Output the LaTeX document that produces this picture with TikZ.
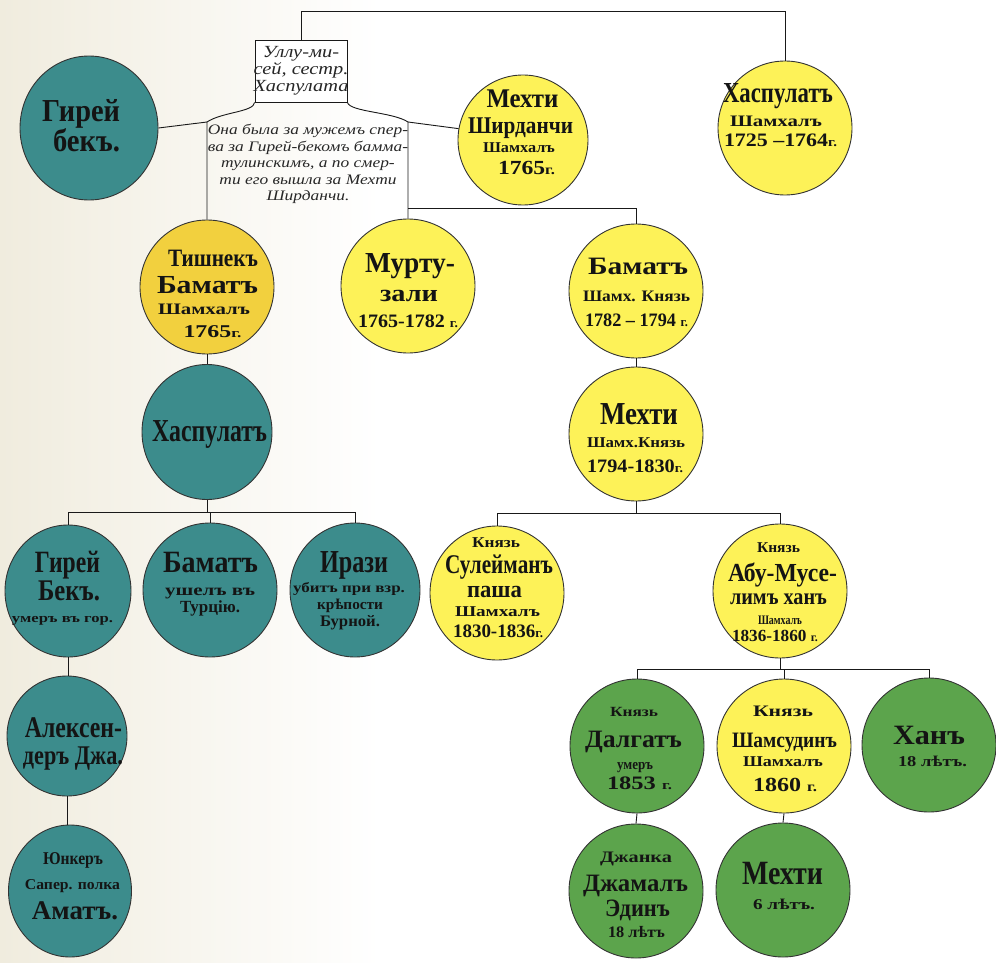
\documentclass[tikz,border=0pt]{standalone}
\usepackage{fontspec}
\usepackage{graphicx}
\setmainfont{Liberation Serif}
\newfontfamily\cf{Liberation Serif}
\newfontfamily\scrf[FakeStretch=1.2]{Liberation Serif}
\usetikzlibrary{shapes.geometric}
\newcommand\fsz[2]{\fontsize{#1}{#2}\selectfont}
\newcommand\zs[1]{\fontsize{#1}{#1}\selectfont}
% one line of text: #1 font, #2 distance from previous baseline, #3 size, #4 width, #5 x offset, #6 text
\newcommand\LX[6]{\vbox to #2pt{\vss\hbox to 0pt{\hss\kern#5pt\smash{\resizebox{#4pt}{\height}{#1\zs{#3}#6}}\kern-#5pt\hss}}}
\newcommand\LB{\LX{\cf\bfseries}}
\newcommand\LR{\LX{\cf\bfseries}}
\definecolor{tealc}{RGB}{60,140,140}
\definecolor{yelc}{RGB}{253,242,88}
\definecolor{tishc}{RGB}{242,208,62}
\definecolor{grnc}{RGB}{92,164,76}
\definecolor{creamc}{RGB}{240,236,222}
\begin{document}
\begin{tikzpicture}[x=1pt,y=-1pt,
  line/.style={draw=black!90, line width=0.9pt},
  pers/.style={ellipse, draw=black!80, line width=0.9pt, inner sep=0pt, minimum width=134pt, minimum height=134pt},
  tealp/.style={pers, fill=tealc},
  yelp/.style={pers, fill=yelc},
  grnp/.style={pers, fill=grnc},
  tv/.style={anchor=south, inner sep=0pt, text=black!92},
  cursive/.style={align=center, inner sep=0pt, text=black!85, font=\scrf\itshape\fsz{17}{17}}
 ]
\useasboundingbox (0,0) rectangle (996,963);
\shade[left color=creamc, right color=white] (0,0) rectangle (380,963);

% persons
\node[tealp, minimum width=138pt, minimum height=144pt] (gb1) at (89,128) {};
\node[rectangle, draw=black!90, line width=0.9pt, fill=white, minimum width=92pt, minimum height=62pt] (box) at (301,71) {};
\node[yelp, minimum size=130pt] (ms) at (523,140) {};
\node[yelp] (hs) at (785,128) {};
\node[yelp, fill=tishc] (tb) at (207,287) {};
\node[yelp] (mz) at (408,286) {};
\node[yelp] (bm) at (636,291) {};
\node[yelp] (mh) at (636,434) {};
\node[tealp, minimum width=130pt, minimum height=135pt] (ht) at (207,432) {};
\node[tealp, minimum width=126pt, minimum height=132pt] (gb2) at (68,591) {};
\node[tealp] (bt) at (210,590) {};
\node[tealp, minimum width=130pt] (ir) at (355,590) {};
\node[yelp] (sp) at (497,593) {};
\node[yelp] (ab) at (780,591) {};
\node[grnp] (dg) at (637,746) {};
\node[yelp] (sh) at (784,746) {};
\node[grnp] (hn) at (929,745) {};
\node[tealp, minimum width=120pt, minimum height=120pt] (al) at (67,736) {};
\node[tealp, minimum width=123pt, minimum height=132pt] (yk) at (70,891) {};
\node[grnp] (dj) at (636,891) {};
\node[grnp] (mg) at (783,890) {};

% connectors
\coordinate (JL) at (207,122);
\coordinate (JR) at (408,122);
\coordinate (JM) at (408,208);
\draw[line] (box.north) -- ++(0,-28) -| (hs.north);
\draw[line] (box.south west) .. controls (254,112) and (222,112) .. (JL) -- (tb.north);
\draw[line] (box.south east) .. controls (350,112) and (393,112) .. (JR) -- (mz.north);
\draw[line] (JL) -- (gb1.east);
\draw[line] (JR) -- (ms.170);
\draw[line] (JM) -| (bm.north);
\draw[line] (tb.south) -- (ht.north);
\draw[line] (ht.south) -- ++(0,12) coordinate (HB);
\draw[line] (gb2.north) |- (HB) -| (ir.north);
\draw[line] (bt.north) -- (bt.north |- HB);
\draw[line] (gb2.south) -- (gb2.south |- al.north);
\draw[line] (al.south) -- (al.south |- yk.north);
\draw[line] (bm.south) -- (mh.north);
\draw[line] (mh.south) -- ++(0,12) coordinate (MB);
\draw[line] (sp.north) |- (MB) -| (ab.north);
\draw[line] (ab.south) -- ++(0,11) coordinate (AB);
\draw[line] (dg.north) |- (AB) -| (hn.north);
\draw[line] (sh.north) -- (sh.north |- AB);
\draw[line] (dg.south) -- (dj.north);
\draw[line] (sh.south) -- (mg.north);

% notes
\node[cursive] (tbox) at (box) {Уллу-ми-\\сей, сестр.\\Хаспулата};
\node[cursive, font=\scrf\itshape\fsz{14.5}{16.5}] (tnote) at (308,164) {Она была за мужемъ спер-\\ва за Гирей-бекомъ бамма-\\тулинскимъ, а по смер-\\ти его вышла за Мехти\\Ширданчи.};

% person texts
\node[tv] (t-gb1) at (89,152) {\vbox{\offinterlineskip
  \LB{24}{32}{78}{-8}{Гирей}
  \LB{30}{32}{67}{-2.5}{бекъ.}}};
\node[tv] (t-ms) at (523,175) {\vbox{\offinterlineskip
  \LB{20}{27}{72}{-0.5}{Мехти}
  \LB{26}{24}{105}{-2.5}{Ширданчи}
  \LR{19}{15}{72}{-4}{Шамхалъ}
  \LB{22}{20}{57}{3.5}{1765{\zs{14}г.}}}};
\node[tv] (t-hs) at (785,147) {\vbox{\offinterlineskip
  \LB{22}{29}{110}{-7}{Хаспулатъ}
  \LR{24}{16}{92}{-9}{Шамхалъ}
  \LB{20}{19}{113}{-4.5}{1725 –1764{\zs{13}г.}}}};
\node[tv] (t-tb) at (207,338) {\vbox{\offinterlineskip
  \LB{20}{25}{90}{6}{Тишнекъ}
  \LB{27}{26}{101}{0.5}{Баматъ}
  \LR{21}{16}{92}{-3}{Шамхалъ}
  \LB{23}{18}{58}{5.5}{1765{\zs{13}г.}}}};
\node[tv] (t-mz) at (408,328) {\vbox{\offinterlineskip
  \LB{21}{29}{90}{2}{Мурту-}
  \LB{29}{24}{58}{1}{зали}
  \LB{26}{19}{100}{0}{1765-1782 {\zs{13}г.}}}};
\node[tv] (t-bm) at (636,327) {\vbox{\offinterlineskip
  \LB{18}{25}{100}{2}{Баматъ}
  \LR{27}{16}{107}{0.5}{Шамх. Князь}
  \LB{25}{19}{103}{0.5}{1782 – 1794 {\zs{13}г.}}}};
\node[tv] (t-mh) at (636,473) {\vbox{\offinterlineskip
  \LB{25}{32}{78}{3}{Мехти}
  \LR{23}{15}{98}{0}{Шамх.Князь}
  \LB{25}{19}{96}{-1}{1794-1830{\zs{13}г.}}}};
\node[tv] (t-ht) at (207,442) {\vbox{\offinterlineskip
  \LB{24}{32}{115}{2.5}{Хаспулатъ}}};
\node[tv] (t-gb2) at (68,623) {\vbox{\offinterlineskip
  \LB{24}{31}{65}{-0.5}{Гирей}
  \LB{28}{30}{62}{1}{Бекъ.}
  \LR{22}{13}{101}{-5.5}{умеръ въ гор.}}};
\node[tv] (t-bt) at (210,613) {\vbox{\offinterlineskip
  \LB{23}{31}{95}{0.5}{Баматъ}
  \LR{23}{16}{90}{0}{ушелъ въ}
  \LR{17}{17}{60}{0}{Турцію.}}};
\node[tv] (t-ir) at (355,627) {\vbox{\offinterlineskip
  \LB{25}{32}{68}{-1}{Ирази}
  \LR{20}{14}{112}{-6}{убитъ при взр.}
  \LR{17}{15}{66}{-5}{крѣпости}
  \LR{17}{16}{60}{-5}{Бурной.}}};
\node[tv] (t-sp) at (497,638) {\vbox{\offinterlineskip
  \LR{10}{15}{48}{-1}{Князь}
  \LB{26}{27}{108}{2}{Сулейманъ}
  \LB{24}{24}{55}{-2.5}{паша}
  \LR{19}{15}{85}{0.5}{Шамхалъ}
  \LB{21}{19}{90}{1}{1830-1836{\zs{13}г.}}}};
\node[tv] (t-ab) at (780,642) {\vbox{\offinterlineskip
  \LR{11}{15}{43}{-1.5}{Князь}
  \LB{29}{26}{109}{2.5}{Абу-Мусе-}
  \LB{23}{23}{97}{-1.5}{лимъ ханъ}
  \LR{20}{13}{44}{0}{Шамхалъ}
  \LB{17}{17}{86}{-5}{1836-1860 {\zs{12}г.}}}};
\node[tv] (t-dg) at (637,790) {\vbox{\offinterlineskip
  \LR{10}{14}{48}{-3}{Князь}
  \LB{31}{25}{97}{-3.5}{Далгатъ}
  \LR{22}{15}{36}{-2}{умеръ}
  \LB{20}{19}{65}{2.5}{1853 {\zs{13}г.}}}};
\node[tv] (t-sh) at (784,792) {\vbox{\offinterlineskip
  \LR{12}{16}{60}{-1}{Князь}
  \LB{31}{22}{105}{0.5}{Шамсудинъ}
  \LR{19}{15}{80}{-1}{Шамхалъ}
  \LB{25}{20}{64}{1}{1860 {\zs{14}г.}}}};
\node[tv] (t-hn) at (929,767) {\vbox{\offinterlineskip
  \LB{20}{28}{72}{0}{Ханъ}
  \LB{22}{15}{69}{3.5}{18 лѣтъ.}}};
\node[tv] (t-al) at (67,765) {\vbox{\offinterlineskip
  \LB{22}{30}{97}{6.5}{Алексен-}
  \LB{27}{27}{100}{6}{деръ Джа.}}};
\node[tv] (t-yk) at (70,920) {\vbox{\offinterlineskip
  \LR{13}{18}{60}{3}{Юнкеръ}
  \LR{25}{15}{95}{2.5}{Сапер. полка}
  \LB{30}{27}{86}{5}{Аматъ.}}};
\node[tv] (t-dj) at (636,938) {\vbox{\offinterlineskip
  \LR{11}{16}{72}{0}{Джанка}
  \LB{29}{25}{105}{-0.5}{Джамалъ}
  \LB{25}{25}{65}{1.5}{Эдинъ}
  \LB{21}{16}{57}{0.5}{18 лѣтъ}}};
\node[tv] (t-mg) at (783,910) {\vbox{\offinterlineskip
  \LB{26}{34}{81}{-0.5}{Мехти}
  \LB{25}{15}{62}{1}{6 лѣтъ.}}};
\end{tikzpicture}
\end{document}
